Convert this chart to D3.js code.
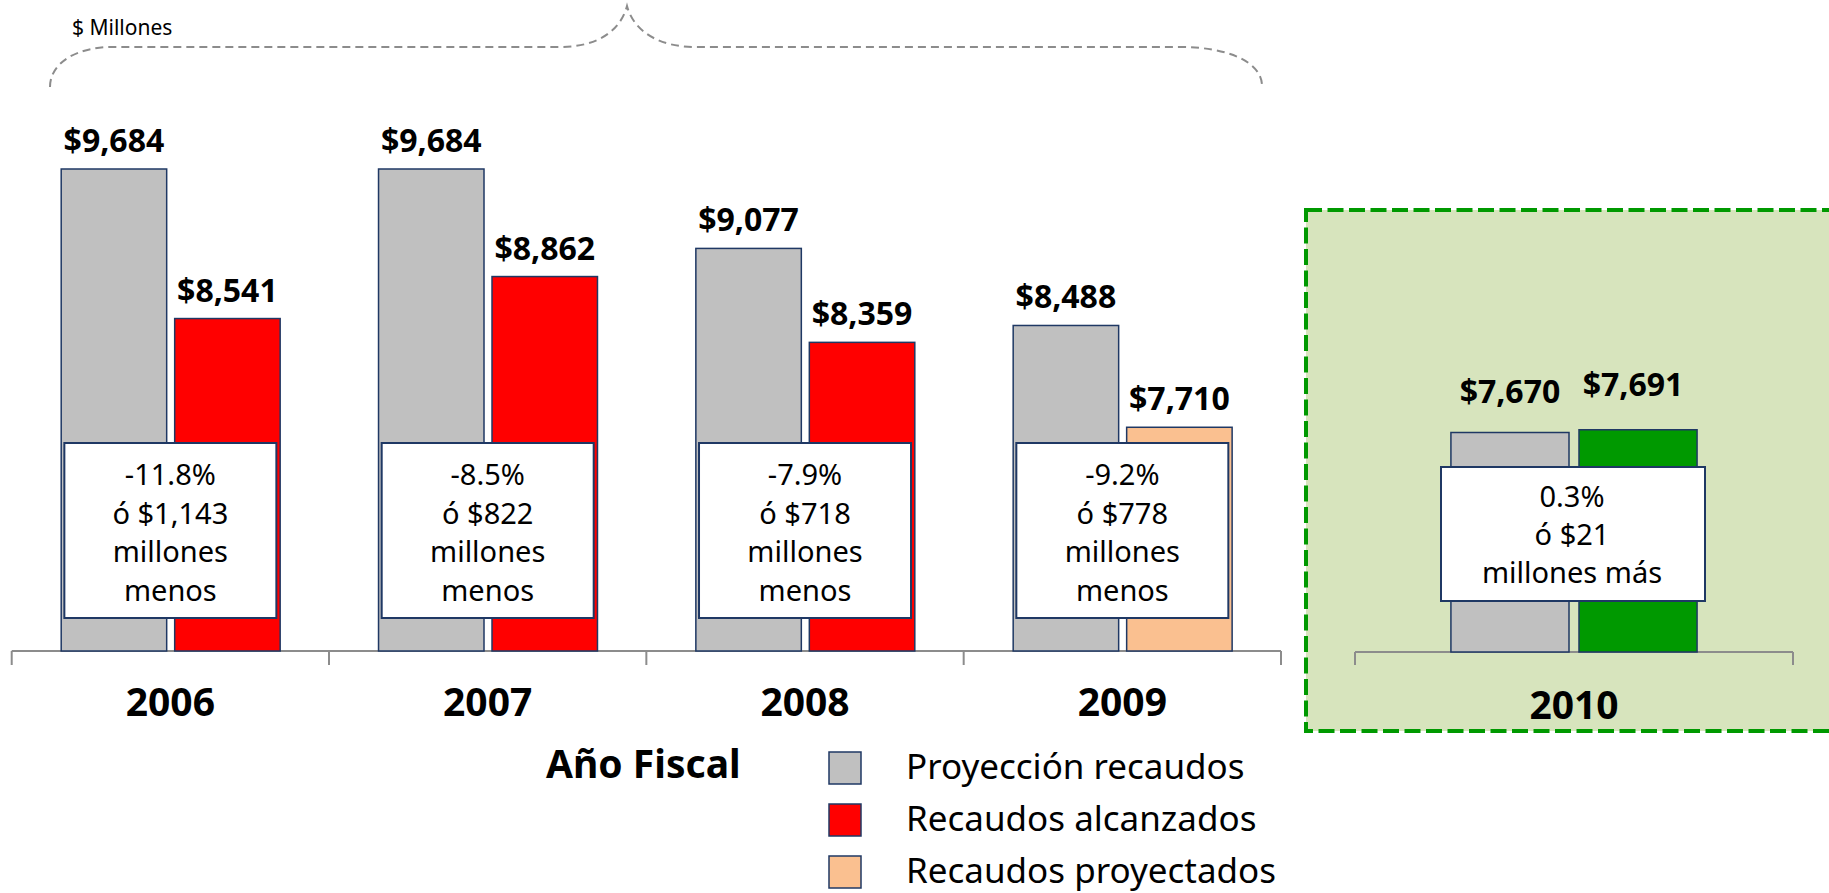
<!DOCTYPE html>
<html>
<head>
<meta charset="utf-8">
<script src="https://cdn.jsdelivr.net/npm/d3@7"></script>
<style>
  body { margin: 0; background: #fff; }
  text { font-family: "Noto Sans", "Open Sans", sans-serif; fill: #000; }
</style>
</head>
<body>
<div id="chart"></div>
<script>
// Recaudos por año fiscal ($ millones)
const years = ["2006", "2007", "2008", "2009"];
const proyeccion = [9684, 9684, 9077, 8488];
const recaudos = [8541, 8862, 8359, 7710];
const recaudoTipo = ["alcanzado", "alcanzado", "alcanzado", "proyectado"];
const notas = [
  ["-11.8%", "ó $1,143", "millones", "menos"],
  ["-8.5%", "ó $822", "millones", "menos"],
  ["-7.9%", "ó $718", "millones", "menos"],
  ["-9.2%", "ó $778", "millones", "menos"]
];

const year2010 = ["2010"];
const proyeccion2010 = [7670];
const recaudos2010 = [7691];
const nota2010 = ["0.3%", "ó $21", "millones más"];

const legendLabels = ["Proyección recaudos", "Recaudos alcanzados", "Recaudos proyectados"];
const colors = { proyeccion: "#C0C0C0", alcanzado: "#FF0000", proyectado: "#FAC090", mas: "#009900" };
const legendColors = [colors.proyeccion, colors.alcanzado, colors.proyectado];

const width = 1829, height = 893;
const navy = "#1F3864";

const svg = d3.select("#chart").append("svg")
  .attr("width", width)
  .attr("height", height);

// escala vertical común (no empieza en cero)
const y = d3.scaleLinear()
  .domain([6000, 9684])
  .range([651, 169]);

// panel 2010
svg.append("rect")
  .attr("x", 1306).attr("y", 210)
  .attr("width", 560).attr("height", 521)
  .attr("fill", "#D7E4BD")
  .attr("stroke", "#009900")
  .attr("stroke-width", 4)
  .attr("stroke-dasharray", "16,5.5");

// llave punteada
svg.append("path")
  .attr("d", "M50,87 C50,62 78,47 112,47 L560,47 C596,47 620,32 627,6 C634,32 660,47 695,47 L1180,47 C1228,47 1262,62 1262,86")
  .attr("fill", "none")
  .attr("stroke", "#8C8C8C")
  .attr("stroke-width", 2)
  .attr("stroke-dasharray", "8,5");

svg.append("text")
  .attr("x", 72).attr("y", 35)
  .style("font-size", "21px")
  .text("$ Millones");

// ---- 2006-2009 ----
const x = d3.scaleBand()
  .domain(years)
  .range([11.7, 1281])
  .padding(0);

const xs = d3.scaleBand()
  .domain(["proy", "rec"])
  .range([x.bandwidth() * 0.156, x.bandwidth() * 0.846])
  .paddingInner(0.0705);

const rows = years.map((yr, i) => ({ yr, proy: proyeccion[i], rec: recaudos[i], tipo: recaudoTipo[i], nota: notas[i] }));

// eje
svg.append("line")
  .attr("x1", x.range()[0]).attr("x2", x.range()[1])
  .attr("y1", 651).attr("y2", 651)
  .attr("stroke", "#8C8C8C").attr("stroke-width", 2);
svg.selectAll(".tickA")
  .data(years.map(d => x(d)).concat([x.range()[1]]))
  .join("line")
    .attr("x1", d => d).attr("x2", d => d)
    .attr("y1", 651).attr("y2", 665)
    .attr("stroke", "#8C8C8C").attr("stroke-width", 2);

const groups = svg.selectAll(".grupo")
  .data(rows)
  .join("g")
    .attr("transform", d => `translate(${x(d.yr)},0)`);

groups.append("rect")
  .attr("x", xs("proy"))
  .attr("y", d => y(d.proy))
  .attr("width", xs.bandwidth())
  .attr("height", d => y.range()[0] - y(d.proy))
  .attr("fill", colors.proyeccion)
  .attr("stroke", navy).attr("stroke-width", 1.5);

groups.append("rect")
  .attr("x", xs("rec"))
  .attr("y", d => y(d.rec))
  .attr("width", xs.bandwidth())
  .attr("height", d => y.range()[0] - y(d.rec))
  .attr("fill", d => colors[d.tipo])
  .attr("stroke", navy).attr("stroke-width", 1.5);

groups.append("text")
  .attr("x", xs("proy") + xs.bandwidth() / 2)
  .attr("y", d => y(d.proy) - 17)
  .attr("text-anchor", "middle")
  .style("font-size", "32px").style("font-weight", "bold")
  .text(d => d3.format("$,")(d.proy));

groups.append("text")
  .attr("x", xs("rec") + xs.bandwidth() / 2)
  .attr("y", d => y(d.rec) - 17)
  .attr("text-anchor", "middle")
  .style("font-size", "32px").style("font-weight", "bold")
  .text(d => d3.format("$,")(d.rec));

// cuadros de diferencia
const bw = x.bandwidth();
groups.append("rect")
  .attr("x", bw / 2 - 106).attr("y", 443)
  .attr("width", 212).attr("height", 175)
  .attr("fill", "#fff")
  .attr("stroke", navy).attr("stroke-width", 2);

groups.each(function(d) {
  d3.select(this).append("g")
    .selectAll("text")
    .data(d.nota)
    .join("text")
      .attr("x", bw / 2)
      .attr("y", (t, i) => 485 + i * 38.5)
      .attr("text-anchor", "middle")
      .style("font-size", "29px")
      .text(t => t);
});

groups.append("text")
  .attr("x", bw / 2)
  .attr("y", 716)
  .attr("text-anchor", "middle")
  .style("font-size", "39px").style("font-weight", "bold")
  .text(d => d.yr);

// ---- 2010 ----
const x2 = d3.scaleBand()
  .domain(year2010)
  .range([1355, 1793])
  .padding(0);
const bw2 = x2.bandwidth();
const xs2 = d3.scaleBand()
  .domain(["proy", "rec"])
  .range([bw2 * 0.219, bw2 * 0.781])
  .paddingInner(0.078);

const base2 = 652;
svg.append("line")
  .attr("x1", x2.range()[0]).attr("x2", x2.range()[1])
  .attr("y1", base2).attr("y2", base2)
  .attr("stroke", "#8C8C8C").attr("stroke-width", 2);
svg.selectAll(".tickB")
  .data(x2.range())
  .join("line")
    .attr("x1", d => d).attr("x2", d => d)
    .attr("y1", base2).attr("y2", base2 + 13)
    .attr("stroke", "#8C8C8C").attr("stroke-width", 2);

const rows2 = year2010.map((yr, i) => ({ yr, proy: proyeccion2010[i], rec: recaudos2010[i] }));
const g2 = svg.selectAll(".grupo2")
  .data(rows2)
  .join("g")
    .attr("transform", d => `translate(${x2(d.yr)},0)`);

g2.append("rect")
  .attr("x", xs2("proy"))
  .attr("y", d => y(d.proy))
  .attr("width", xs2.bandwidth())
  .attr("height", d => base2 - y(d.proy))
  .attr("fill", colors.proyeccion)
  .attr("stroke", navy).attr("stroke-width", 1.5);

g2.append("rect")
  .attr("x", xs2("rec"))
  .attr("y", d => y(d.rec))
  .attr("width", xs2.bandwidth())
  .attr("height", d => base2 - y(d.rec))
  .attr("fill", colors.mas)
  .attr("stroke", navy).attr("stroke-width", 1.5);

g2.append("text")
  .attr("x", xs2("proy") + xs2.bandwidth() / 2)
  .attr("y", d => y(d.proy) - 30)
  .attr("text-anchor", "middle")
  .style("font-size", "32px").style("font-weight", "bold")
  .text(d => d3.format("$,")(d.proy));

g2.append("text")
  .attr("x", xs2("rec") + xs2.bandwidth() / 2 - 5)
  .attr("y", d => y(d.rec) - 34)
  .attr("text-anchor", "middle")
  .style("font-size", "32px").style("font-weight", "bold")
  .text(d => d3.format("$,")(d.rec));

g2.append("rect")
  .attr("x", bw2 / 2 - 133).attr("y", 467)
  .attr("width", 264).attr("height", 134)
  .attr("fill", "#fff")
  .attr("stroke", navy).attr("stroke-width", 2);

g2.append("g")
  .selectAll("text")
  .data(nota2010)
  .join("text")
    .attr("x", bw2 / 2 - 2)
    .attr("y", (t, i) => 507 + i * 38)
    .attr("text-anchor", "middle")
    .style("font-size", "29px")
    .text(t => t);

g2.append("text")
  .attr("x", bw2 / 2)
  .attr("y", 719)
  .attr("text-anchor", "middle")
  .style("font-size", "39px").style("font-weight", "bold")
  .text(d => d.yr);

// titulo eje
svg.append("text")
  .attr("x", 546).attr("y", 778)
  .style("font-size", "39px").style("font-weight", "bold")
  .text("Año Fiscal");

// leyenda
const legend = svg.selectAll(".ley")
  .data(legendLabels)
  .join("g")
    .attr("transform", (d, i) => `translate(829,${752 + i * 52})`);
legend.append("rect")
  .attr("width", 32).attr("height", 32)
  .attr("fill", (d, i) => legendColors[i])
  .attr("stroke", navy).attr("stroke-width", 1.5);
legend.append("text")
  .attr("x", 77).attr("y", 27)
  .style("font-size", "35px")
  .text(d => d);
</script>
</body>
</html>
